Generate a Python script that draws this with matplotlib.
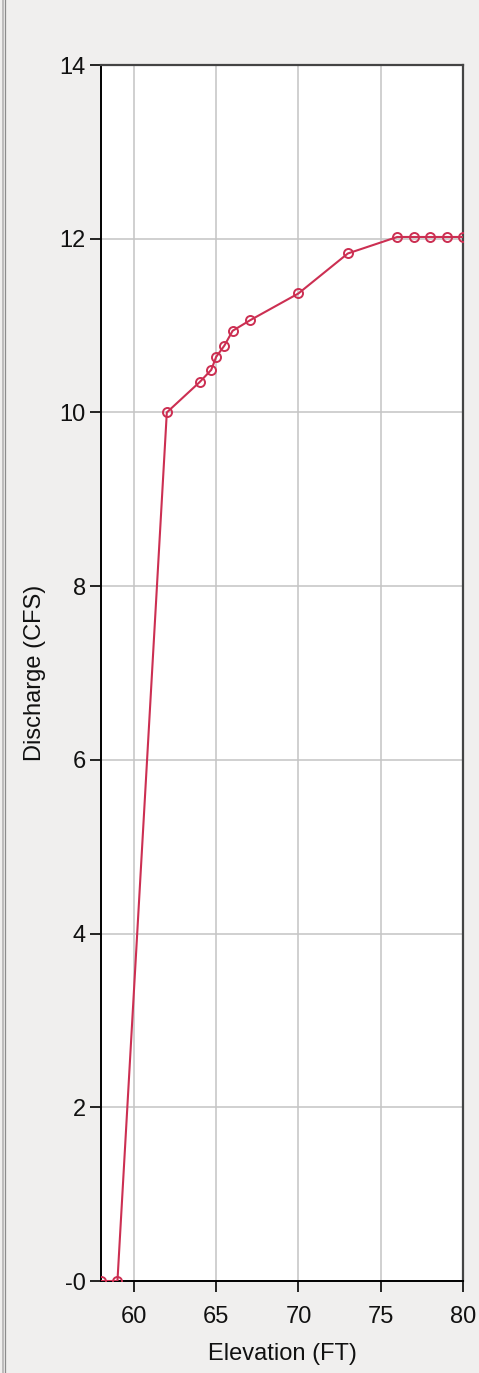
import matplotlib
matplotlib.use("Agg")
import matplotlib.pyplot as plt
from matplotlib.lines import Line2D

# Rating curve: elevation (ft) vs discharge (cfs)
elevation = [58.0, 59.0, 62.0, 64.0, 64.7, 65.0, 65.5, 66.0, 67.05, 70.0, 73.0, 76.0, 77.0, 78.0, 79.0, 80.0]
discharge = [0.0, 0.0, 10.0, 10.35, 10.49, 10.64, 10.77, 10.94, 11.06, 11.37, 11.83, 12.02, 12.02, 12.02, 12.02, 12.02]

x_ticks = [60, 65, 70, 75, 80]
x_tick_labels = ["60", "65", "70", "75", "80"]
y_ticks = [0, 2, 4, 6, 8, 10, 12, 14]
y_tick_labels = ["-0", "2", "4", "6", "8", "10", "12", "14"]

W, H = 479, 1373
DPI = 100
BG = "#f0efee"
LINE = "#cc2f52"

plt.rcParams["font.family"] = ["Liberation Sans", "DejaVu Sans"]

fig = plt.figure(figsize=(W / DPI, H / DPI), dpi=DPI, facecolor=BG)
left, right, top, bottom = 101, 463, 65, 1281
ax = fig.add_axes([left / W, 1 - bottom / H, (right - left) / W, (bottom - top) / H])
ax.set_facecolor("white")

ax.plot(elevation, discharge, color=LINE, linewidth=1.5, marker="o",
        markersize=6.5, markerfacecolor="none", markeredgecolor=LINE,
        markeredgewidth=1.4, clip_on=True, zorder=3)

ax.set_xlim(58, 80)
ax.set_ylim(0, 14)
ax.set_xticks(x_ticks)
ax.set_xticklabels(x_tick_labels)
ax.set_yticks(y_ticks)
ax.set_yticklabels(y_tick_labels)

ax.grid(True, color="#c4c4c4", linewidth=1.1, zorder=0)
ax.set_axisbelow(True)

ax.tick_params(axis="both", direction="out", length=8, width=1.2,
               colors="black", labelsize=17, labelcolor="#111111")
ax.tick_params(axis="y", pad=3)
ax.tick_params(axis="x", pad=10)

for side in ("left", "bottom"):
    ax.spines[side].set_color("black")
    ax.spines[side].set_linewidth(1.4)
for side in ("top", "right"):
    ax.spines[side].set_color("#444444")
    ax.spines[side].set_linewidth(1.6)

ax.set_xlabel("Elevation (FT)", fontsize=17, color="#111111", labelpad=11)
ax.set_ylabel("Discharge (CFS)", fontsize=17, color="#111111", labelpad=10)

# Panel border on the left edge
fig.add_artist(Line2D([2.5 / W, 2.5 / W], [0, 1], transform=fig.transFigure,
                      color="#b4b4b4", linewidth=1.2))
fig.add_artist(Line2D([5 / W, 5 / W], [0, 1], transform=fig.transFigure,
                      color="#8c8c8c", linewidth=0.9))

fig.savefig("out.png", dpi=DPI, facecolor=BG)
